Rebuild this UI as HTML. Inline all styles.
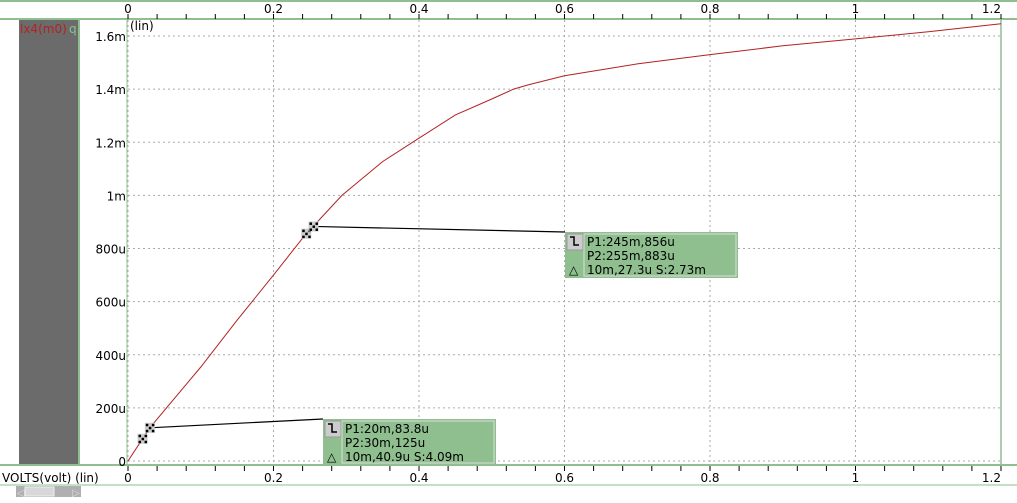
<!DOCTYPE html>
<html><head><meta charset="utf-8"><style>
body{margin:0;background:#fff;width:1017px;height:499px;overflow:hidden;font-family:"DejaVu Sans","Liberation Sans",sans-serif}
svg text{font-family:"DejaVu Sans","Liberation Sans",sans-serif}
</style></head><body>
<svg id="chart" width="1017" height="499" xmlns="http://www.w3.org/2000/svg">
<rect x="0" y="0" width="1017" height="499" fill="#fff"/>
<line x1="0" y1="1" x2="1017" y2="1" stroke="#8fbf8f" stroke-width="2"/>
<line x1="0" y1="19" x2="1017" y2="19" stroke="#8fbf8f" stroke-width="2"/>
<line x1="0" y1="465" x2="1017" y2="465" stroke="#8fbf8f" stroke-width="2"/>
<line x1="0" y1="485" x2="1017" y2="485" stroke="#8fbf8f" stroke-width="1"/>
<rect x="19" y="20" width="59" height="444" fill="#6b6b6b"/>
<rect x="78" y="20" width="2" height="444" fill="#8fbf8f"/>
<text x="20" y="33" font-size="12" fill="#b22222">lx4(m0)</text>
<text x="69" y="33" font-size="12" fill="#8fbf8f">q</text>
<text x="130" y="30" font-size="12" fill="#000">(lin)</text>
<line x1="1001" y1="20" x2="1001" y2="464" stroke="#8fbf8f" stroke-width="1.5"/>
<line x1="127" y1="20" x2="127" y2="464" stroke="#8fbf8f" stroke-width="1"/>
<g id="grid"></g><g id="axes"></g>
<path id="curve" fill="none" stroke="#b22222" stroke-width="1"/>
<g id="ann"></g>
<text x="2" y="482" font-size="12" fill="#000">VOLTS(volt) (lin)</text>
<rect x="16" y="486" width="65" height="11" fill="#b0b0b0"/>
<rect x="25" y="487" width="29" height="9" fill="#d8d8d8" stroke="#eee"/>
<text x="17" y="496" font-size="10" fill="#ddd">◁</text><text x="72" y="496" font-size="10" fill="#ddd">▷</text>
</svg>
<script>
const xTicks=[0,0.2,0.4,0.6,0.8,1,1.2];
const xTickLabels=["0","0.2","0.4","0.6","0.8","1","1.2"];
const yTicks=[0,200e-6,400e-6,600e-6,800e-6,1e-3,1.2e-3,1.4e-3,1.6e-3];
const yTickLabels=["0","200u","400u","600u","800u","1m","1.2m","1.4m","1.6m"];
const curveX=[0,0.02,0.03,0.1,0.15,0.2,0.245,0.255,0.2625,0.294,0.35,0.397,0.45,0.5,0.53,0.55,0.6,0.7,0.8,0.9,1.0,1.1,1.2];
const curveY=[0,83.8e-6,125e-6,354e-6,530e-6,700e-6,856e-6,883e-6,907e-6,1000e-6,1127e-6,1210e-6,1303e-6,1363e-6,1400e-6,1416e-6,1450e-6,1495e-6,1530e-6,1563e-6,1589e-6,1616e-6,1646e-6];
const m1X=[0.02,0.03], m1Y=[83.8e-6,125e-6];
const m2X=[0.245,0.255], m2Y=[856e-6,883e-6];
const box1Text=["P1:20m,83.8u","P2:30m,125u","10m,40.9u S:4.09m"];
const box2Text=["P1:245m,856u","P2:255m,883u","10m,27.3u S:2.73m"];
const X=v=>128+v*(873/1.2), Y=v=>461-v*(425/1.6e-3);
const NS="http://www.w3.org/2000/svg";
function mk(t,a,p){const e=document.createElementNS(NS,t);for(const k in a)e.setAttribute(k,a[k]);p.appendChild(e);return e;}
const grid=document.getElementById('grid'),axes=document.getElementById('axes');
xTicks.forEach((v,i)=>{
 const l=mk('line',{x1:X(v),y1:20,x2:X(v),y2:464,stroke:'#aaa','stroke-dasharray':'2,3'},grid);
 
 const t1=mk('text',{x:X(v),y:13,'font-size':12,'text-anchor':i==xTicks.length-1?'end':'middle'},axes);t1.textContent=xTickLabels[i];
 
 const t2=mk('text',{x:X(v),y:482,'font-size':12,'text-anchor':i==xTicks.length-1?'end':'middle'},axes);t2.textContent=xTickLabels[i];
 
});
for(let v=0;v<=1.2001;v+=0.04){mk('line',{x1:X(v),y1:14,x2:X(v),y2:19,stroke:'#000'},axes);mk('line',{x1:X(v),y1:466,x2:X(v),y2:471,stroke:'#000'},axes);}
yTicks.forEach((v,i)=>{
 const l=mk('line',{x1:128,y1:Y(v),x2:1001,y2:Y(v),stroke:'#aaa','stroke-dasharray':'2,3'},grid);
 
 const t=mk('text',{x:126,y:Y(v)+5,'font-size':12,'text-anchor':'end'},axes);t.textContent=yTickLabels[i];
 
});
document.getElementById('curve').setAttribute('d',curveX.map((v,i)=>(i?'L':'M')+X(v).toFixed(1)+','+Y(curveY[i]).toFixed(1)).join(''));
const ann=document.getElementById('ann');
function marker(x,y){const g=mk('g',{},ann);
 mk('rect',{x:x-5,y:y-5,width:10,height:10,fill:'#ccc'},g);
 [[-4,-4],[2,-4],[-4,2],[2,2],[-1,-1]].forEach(d=>mk('rect',{x:x+d[0],y:y+d[1],width:2.5,height:2.5,fill:'#000'},g));}
function box(mx,my,bx,by,lines,name){
 const x2=X(mx[1]),y2=Y(my[1]);
 mk('line',{x1:x2,y1:y2,x2:bx,y2:by,stroke:'#000','stroke-width':1.2},ann);
 marker(X(mx[0]),Y(my[0]));marker(x2,y2);
 const g=mk('g',{},ann);
 mk('rect',{x:bx,y:by,width:173,height:46,fill:'#8fbf8f'},g);
 mk('rect',{x:bx+19,y:by+2,width:152,height:42,fill:'none',stroke:'#ddd'},g);
 mk('rect',{x:bx+2,y:by+2,width:16,height:16,fill:'#ccc',stroke:'#999'},g);
 mk('path',{d:`M${bx+5} ${by+5}h4v8h5`,fill:'none',stroke:'#000','stroke-width':1.5},g);
 lines.forEach((s,i)=>{const t=mk('text',{x:bx+22,y:by+14+i*14,'font-size':12},g);t.textContent=s;});
 const d=mk('text',{x:bx+4,y:by+42,'font-size':12},g);d.textContent='△';
}
box(m1X,m1Y,323,419,box1Text,'measurement-box-1');
box(m2X,m2Y,565,232,box2Text,'measurement-box-2');
</script>
</body></html>
